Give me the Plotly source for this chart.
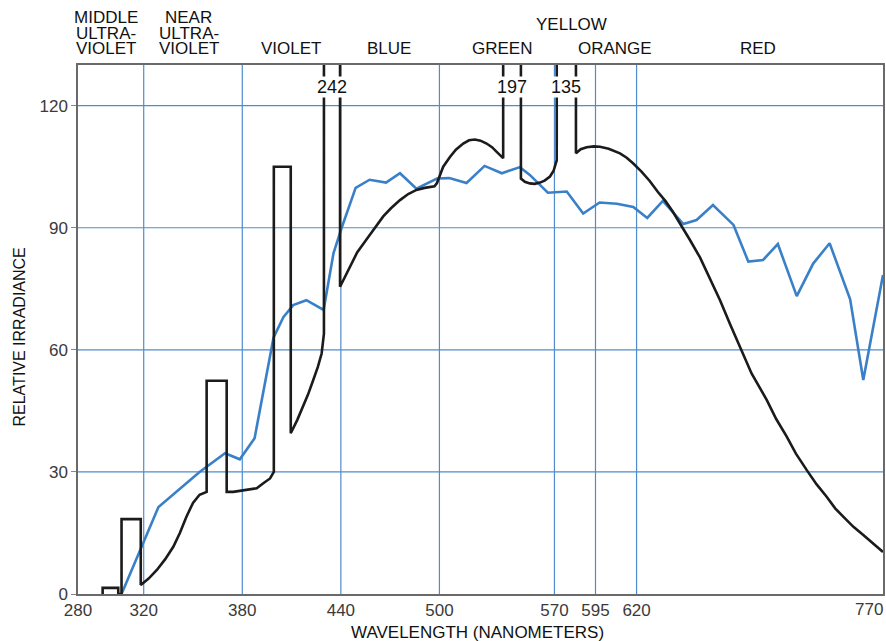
import plotly.graph_objects as go

# Daylight spectrum (blue trace): wavelength in nm, relative irradiance
daylight_nm = [306.5, 329, 354, 369.5, 378.5, 387.5, 399, 405, 411, 419, 429.5,
               435.5, 440.5, 449, 457.5, 467.5, 476, 486, 498.5, 506, 516.5,
               527.5, 538, 549, 555, 566, 577.5, 587.5, 597.5, 608, 618, 626.5,
               636, 648.5, 656.5, 666.5, 679, 688, 697, 706, 717.5, 727.5, 737.5,
               750, 758, 770]
daylight_val = [0, 21.4, 30, 34.6, 33.1, 38.3, 63, 68, 71, 72.2, 69.8,
                83.7, 90, 99.8, 101.8, 101.1, 103.4, 99.6, 102.1, 102.2, 101,
                105.2, 103.4, 104.9, 103, 98.6, 98.9, 93.5, 96.2, 95.9, 95.1, 92.4,
                96.6, 90.9, 91.9, 95.6, 90.7, 81.7, 82.1, 86, 73.2, 81.2, 86.2,
                72.4, 52.6, 78.4]

# Lamp continuum (black trace), split where emission bands interrupt it
lamp_segments = [
    [(295, 0)],
    [(304.5, 0), (306.5, 0)],
    [(318.2, 2.2), (323, 3.8), (328, 5.9), (333, 8.5), (338, 11.6), (342, 15),
     (346, 19), (350, 22.4), (354, 24.4), (358.3, 25.1)],
    [(370.5, 25.1), (374.5, 25.1), (382.7, 25.6), (388.8, 26), (392.8, 27.2),
     (396.9, 28.4), (399.2, 30)],
    [(409.5, 39.5), (413.5, 42.8), (417.1, 46), (420, 49), (423.2, 52.6),
     (426, 55.8), (428.3, 59.1), (429.7, 64)],
    [(439.5, 75.5), (445.5, 80.4), (450, 84), (455.7, 87.2), (460.5, 90),
     (465.8, 92.8), (470.5, 94.8), (476, 96.8), (481, 98.3), (486, 99.3),
     (491, 99.8), (497, 100.2), (498.5, 101), (502.3, 105), (506.4, 107.4),
     (510, 109.2), (514.5, 110.7), (518, 111.5), (521.6, 111.7), (525, 111.4),
     (528.7, 110.7), (532, 109.8), (535, 108.6), (538.8, 107.1)],
    [(549.6, 102.1), (552, 101.3), (555, 100.9), (558, 100.8), (561.2, 101.1),
     (564, 101.6), (567.3, 102.6), (569.5, 104), (571.4, 106.6)],
    [(583.1, 108.3), (586, 109.3), (589.6, 109.8), (594, 110), (597.7, 109.9),
     (603, 109.4), (609.9, 108.3), (614, 107.2), (618, 105.8), (623, 103.8),
     (628, 101.5), (633, 98.8), (637.5, 96.6), (642, 94), (647, 90.8),
     (652.5, 87), (658.6, 82.7), (664.5, 77.8), (670.8, 72.2), (677, 66.2),
     (683, 60.6), (690, 54.2), (699.2, 47.7), (705, 43), (711.4, 38.7),
     (717, 34.5), (723.5, 30.5), (729.5, 27), (735.7, 23.9), (741, 21),
     (745.8, 19), (752, 16.5), (758, 14.5), (764, 12.3), (770, 10.3)],
]

# Emission bands: left edge, right edge, height
band_left = [295, 306.5, 358.3, 399.2, 429.7, 538.8, 571.4]
band_right = [304.5, 318.2, 370.5, 409.5, 439.5, 549.6, 583.1]
band_height = [1.5, 18.4, 52.4, 105, 242, 197, 135]
labelled_bands = [4, 5, 6]   # bands that rise off the top of the chart

x_ticks = [280, 320, 380, 440, 500, 570, 595, 620, 770]
y_ticks = [0, 30, 60, 90, 120]
grid_x = [320, 380, 440, 500, 570, 595, 620]
grid_y = [30, 60, 90, 120]

# Spectral region names and the wavelength each is centred on
region_names = [
    (["MIDDLE", "ULTRA-", "VIOLET"], 297),
    (["NEAR", "ULTRA-", "VIOLET"], 347.5),
    (["VIOLET"], 409.5),
    (["BLUE"], 469),
    (["GREEN"], 538),
    (["YELLOW"], 580.5),
    (["ORANGE"], 607),
    (["RED"], 694),
]

# Build the lamp polyline
lamp_x, lamp_y = [], []
for i, seg in enumerate(lamp_segments):
    for nm, v in seg:
        lamp_x.append(nm)
        lamp_y.append(v)
    if i < len(band_height):
        lamp_x += [band_left[i], band_right[i]]
        lamp_y += [band_height[i], band_height[i]]

FONT = "Liberation Sans, Arial, Helvetica, sans-serif"
GRID = "#4f8ccd"
TICK_FONT = dict(family=FONT, size=17, color="#3a3a3a")

fig = go.Figure()
fig.add_trace(go.Scatter(x=daylight_nm, y=daylight_val, mode="lines",
                         line=dict(color="#3a80c8", width=2.6),
                         showlegend=False, hoverinfo="skip"))
fig.add_trace(go.Scatter(x=lamp_x, y=lamp_y, mode="lines",
                         line=dict(color="#1b1b1b", width=2.6),
                         showlegend=False, hoverinfo="skip"))

# Grid lines in blue
for g in grid_x:
    fig.add_shape(type="line", x0=g, x1=g, y0=0, y1=1, xref="x", yref="paper",
                  line=dict(color=GRID, width=1.2), layer="below")
for g in grid_y:
    fig.add_shape(type="line", x0=0, x1=1, y0=g, y1=g, xref="paper", yref="y",
                  line=dict(color=GRID, width=1.2), layer="below")

annotations = []
# Peak values for the off-scale bands
for b in labelled_bands:
    annotations.append(dict(
        x=(band_left[b] + band_right[b]) / 2, y=124.6, xref="x", yref="y",
        text=str(band_height[b]), showarrow=False, bgcolor="white",
        borderpad=0, font=dict(family=FONT, size=18, color="#111")))

# Region names above the plot
plot_top, plot_bottom = 65, 594
def paper_y(py):
    return (plot_bottom - py) / (plot_bottom - plot_top)

for lines, nm in region_names:
    if lines[0] == "YELLOW":
        rows = [("YELLOW", 25)]
    elif len(lines) == 3:
        rows = list(zip(lines, [17, 33, 49]))
    else:
        rows = [(lines[0], 49)]
    for txt, py in rows:
        annotations.append(dict(x=nm, y=paper_y(py), xref="x", yref="paper",
                                text=txt, showarrow=False, yanchor="middle",
                                font=dict(family=FONT, size=17, color="#111")))

# Last wavelength label, right-aligned against the border
annotations.append(dict(x=x_ticks[-1], y=paper_y(609), xref="x", yref="paper",
                        text=str(x_ticks[-1]), showarrow=False, xshift=2,
                        xanchor="right", yanchor="middle", font=TICK_FONT))

annotations.append(dict(x=(477 - 78) / 805, y=paper_y(632), xref="paper",
                        yref="paper", text="WAVELENGTH (NANOMETERS)",
                        showarrow=False, yanchor="middle",
                        font=dict(family=FONT, size=17, color="#111")))
annotations.append(dict(x=(18.5 - 78) / 805, y=paper_y(337), xref="paper",
                        yref="paper", text="RELATIVE IRRADIANCE", textangle=-90,
                        showarrow=False, xanchor="center", yanchor="middle",
                        font=dict(family=FONT, size=16, color="#111")))

fig.update_layout(
    width=886, height=641,
    margin=dict(l=78, r=3, t=65, b=47),
    paper_bgcolor="white", plot_bgcolor="white",
    annotations=annotations,
    xaxis=dict(range=[280, 770], tickvals=x_ticks[:-1],
               ticktext=[str(t) for t in x_ticks[:-1]],
               showgrid=False, zeroline=False, showline=True, mirror=True,
               linecolor="#6a6a6a", linewidth=1.5, ticks="",
               automargin=False, tickfont=TICK_FONT),
    yaxis=dict(range=[0, 130], tickvals=y_ticks,
               showgrid=False, zeroline=False, automargin=False,
               showline=True, mirror=True, linecolor="#6a6a6a", linewidth=1.5,
               ticks="outside", ticklen=5, tickcolor="#888",
               tickfont=TICK_FONT),
)

fig.write_html("out.html")
